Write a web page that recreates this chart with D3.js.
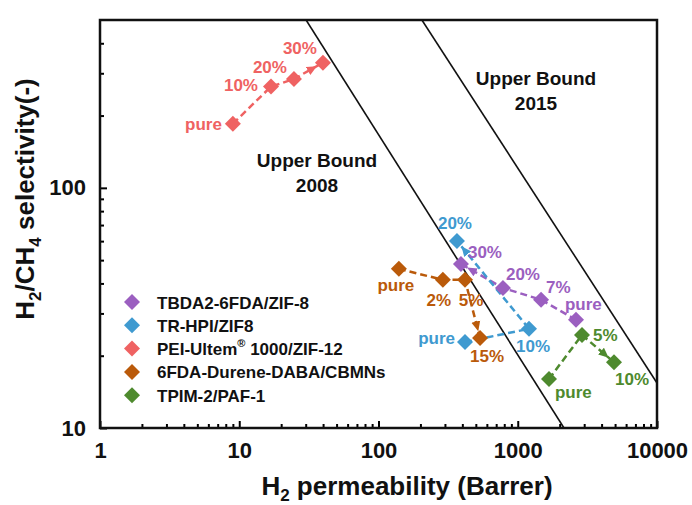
<!DOCTYPE html>
<html lang="en">
  <head>
    <meta charset="UTF-8" />
    <title>H2/CH4 upper bound plot</title>
    <style>
      body {
        margin: 0;
        background: #fff;
        font-family: Arial, "Liberation Sans", sans-serif;
      }
      text {
        font-weight: bold;
      }
    </style>
  </head>
  <body>
    <div id="chart"></div>
    <script src="https://d3js.org/d3.v7.min.js"></script>
    <script>
      // series data: H2 permeability (Barrer) vs H2/CH4 selectivity
      const seriesNames = [
        "TBDA2-6FDA/ZIF-8",
        "TR-HPI/ZIF8",
        "PEI-Ultem® 1000/ZIF-12",
        "6FDA-Durene-DABA/CBMNs",
        "TPIM-2/PAF-1"
      ];
      const seriesColors = ["#9b5fc0", "#3f9ad0", "#ef6262", "#ba5a0a", "#4e8a2e"];

      const tbdaPerm = [2620, 1470, 783, 391];
      const tbdaSel = [28.2, 34.2, 38.3, 48.2];
      const tbdaLabels = ["pure", "7%", "20%", "30%"];

      const trPerm = [418, 1205, 366];
      const trSel = [22.8, 25.9, 60.1];
      const trLabels = ["pure", "10%", "20%"];

      const peiPerm = [9.0, 16.9, 24.7, 39.9];
      const peiSel = [185, 264, 284, 332];
      const peiLabels = ["pure", "10%", "20%", "30%"];

      const fdaPerm = [140, 290, 418, 536];
      const fdaSel = [46, 41.4, 41.4, 23.7];
      const fdaLabels = ["pure", "2%", "5%", "15%"];

      const tpimPerm = [1676, 2893, 4910];
      const tpimSel = [16.0, 24.4, 18.8];
      const tpimLabels = ["pure", "5%", "10%"];

      // upper bound lines (end points)
      const bound2008Perm = [30.2, 2148];
      const bound2008Sel = [500, 10];
      const bound2015Perm = [205, 10000];
      const bound2015Sel = [500, 15.4];

      const xTicks = [1, 10, 100, 1000, 10000];
      const yTicks = [10, 100];

      // label placement (pixel offsets from point, anchor)
      const labelLayout = [
        [[-11, -16, "start"], [5, -13, "start"], [3, -14, "start"], [7, -12, "start"]],
        [[-10, -4, "end"], [4, 17, "middle"], [-2, -18, "middle"]],
        [[-11, 0, "end"], [-13, -2, "end"], [-7, -12, "end"], [-6, -15, "end"]],
        [[-3, 16, "middle"], [-4, 20, "middle"], [6, 20, "middle"], [7, 18, "middle"]],
        [[6, 13, "start"], [11, 0, "start"], [1, 17, "start"]]
      ];

      const series = [
        { perm: tbdaPerm, sel: tbdaSel, labels: tbdaLabels },
        { perm: trPerm, sel: trSel, labels: trLabels },
        { perm: peiPerm, sel: peiSel, labels: peiLabels },
        { perm: fdaPerm, sel: fdaSel, labels: fdaLabels },
        { perm: tpimPerm, sel: tpimSel, labels: tpimLabels }
      ];

      const width = 692, height = 505;
      const margin = { top: 20, right: 35, bottom: 77, left: 100 };
      const innerW = width - margin.left - margin.right;
      const innerH = height - margin.top - margin.bottom;

      const x = d3.scaleLog().domain([1, 10000]).range([0, innerW]);
      const y = d3.scaleLog().domain([10, 500]).range([innerH, 0]);

      const svg = d3.select("#chart").append("svg")
        .attr("width", width)
        .attr("height", height);

      const defs = svg.append("defs");
      seriesColors.forEach((c, i) => {
        defs.append("marker")
          .attr("id", "arrow" + i)
          .attr("markerUnits", "userSpaceOnUse")
          .attr("viewBox", "0 -5 20 10")
          .attr("refX", 17)
          .attr("refY", 0)
          .attr("markerWidth", 20)
          .attr("markerHeight", 10)
          .attr("orient", "auto")
          .append("path")
          .attr("d", "M0,-4.5L10,0L0,4.5Z")
          .attr("fill", c);
      });

      const g = svg.append("g").attr("transform", `translate(${margin.left},${margin.top})`);

      // clip for bound lines
      defs.append("clipPath").attr("id", "plotclip")
        .append("rect").attr("width", innerW).attr("height", innerH);

      // axes with inward ticks
      const minorX = [];
      [1, 10, 100, 1000].forEach(d => { for (let k = 2; k <= 9; k++) minorX.push(d * k); });
      const minorY = [20, 30, 40, 50, 60, 70, 80, 90, 200, 300, 400];

      g.append("g").attr("transform", `translate(0,${innerH})`)
        .call(d3.axisBottom(x).tickValues(xTicks).tickFormat(d3.format("d")).tickSizeInner(-7).tickSizeOuter(0).tickPadding(14))
        .call(a => a.select(".domain").remove())
        .call(a => a.selectAll("line").attr("stroke-width", 2))
        .call(a => a.selectAll("text").attr("font-size", 22).attr("font-family", "Arial, 'Liberation Sans', sans-serif").attr("fill", "#111"));

      g.append("g").attr("transform", `translate(0,${innerH})`)
        .call(d3.axisBottom(x).tickValues(minorX).tickFormat("").tickSizeInner(-4).tickSizeOuter(0))
        .call(a => a.select(".domain").remove())
        .call(a => a.selectAll("line").attr("stroke-width", 2));

      g.append("g")
        .call(d3.axisLeft(y).tickValues(yTicks).tickFormat(d3.format("d")).tickSizeInner(-7).tickSizeOuter(0).tickPadding(14))
        .call(a => a.select(".domain").remove())
        .call(a => a.selectAll("line").attr("stroke-width", 2))
        .call(a => a.selectAll("text").attr("font-size", 22).attr("font-family", "Arial, 'Liberation Sans', sans-serif").attr("fill", "#111"));

      g.append("g")
        .call(d3.axisLeft(y).tickValues(minorY).tickFormat("").tickSizeInner(-4).tickSizeOuter(0))
        .call(a => a.select(".domain").remove())
        .call(a => a.selectAll("line").attr("stroke-width", 2));

      // frame
      g.append("rect")
        .attr("width", innerW).attr("height", innerH)
        .attr("fill", "none").attr("stroke", "#111").attr("stroke-width", 2.5);

      // upper bounds
      const boundLine = d3.line().x(d => x(d[0])).y(d => y(d[1]));
      const bounds = g.append("g").attr("clip-path", "url(#plotclip)");
      bounds.append("path")
        .attr("d", boundLine(d3.zip(bound2008Perm, bound2008Sel)))
        .attr("stroke", "#111").attr("stroke-width", 1.6).attr("fill", "none");
      bounds.append("path")
        .attr("d", boundLine(d3.zip(bound2015Perm, bound2015Sel)))
        .attr("stroke", "#111").attr("stroke-width", 1.6).attr("fill", "none");

      const ub = [
        { cx: 317, lines: ["Upper Bound", "2008"], y0: 167 },
        { cx: 536, lines: ["Upper Bound", "2015"], y0: 85 }
      ];
      ub.forEach(u => {
        u.lines.forEach((t, i) => {
          svg.append("text")
            .attr("x", u.cx).attr("y", u.y0 + i * 25)
            .attr("text-anchor", "middle")
            .attr("font-size", 19).attr("fill", "#111")
            .text(t);
        });
      });

      // series: dashed paths, diamonds, labels
      const diamond = s => `M0,${-s}L${s},0L0,${s}L${-s},0Z`;
      const line = d3.line().x(d => x(d[0])).y(d => y(d[1]));

      series.forEach((s, i) => {
        const pts = d3.zip(s.perm, s.sel);
        g.append("path")
          .attr("d", line(pts))
          .attr("fill", "none")
          .attr("stroke", seriesColors[i])
          .attr("stroke-width", 2.5)
          .attr("stroke-dasharray", "7,4")
          .attr("marker-end", `url(#arrow${i})`);
      });

      series.forEach((s, i) => {
        const pts = d3.zip(s.perm, s.sel);
        g.selectAll(null).data(pts).enter().append("path")
          .attr("d", diamond(8))
          .attr("transform", d => `translate(${x(d[0])},${y(d[1])})`)
          .attr("fill", seriesColors[i]);
        g.selectAll(null).data(pts).enter().append("text")
          .attr("x", (d, j) => x(d[0]) + labelLayout[i][j][0])
          .attr("y", (d, j) => y(d[1]) + labelLayout[i][j][1] + 6)
          .attr("text-anchor", (d, j) => labelLayout[i][j][2])
          .attr("font-size", 17)
          .attr("fill", seriesColors[i])
          .text((d, j) => s.labels[j]);
      });

      // legend
      const legend = svg.append("g").attr("transform", "translate(132,302)");
      seriesNames.forEach((name, i) => {
        const row = legend.append("g").attr("transform", `translate(0,${i * 23.3})`);
        row.append("path").attr("d", diamond(8)).attr("fill", seriesColors[i]);
        const t = row.append("text").attr("x", 25).attr("y", 6.5)
          .attr("font-size", 17).attr("fill", "#111");
        if (name.includes("®")) {
          const parts = name.split("®");
          t.append("tspan").text(parts[0]);
          t.append("tspan").attr("font-size", 11).attr("dy", -8).text("®");
          t.append("tspan").attr("dy", 8).text(parts[1]);
        } else {
          t.text(name);
        }
      });

      // axis titles
      const xt = svg.append("text")
        .attr("x", margin.left + 307).attr("y", 495)
        .attr("text-anchor", "middle").attr("font-size", 26).attr("fill", "#111");
      xt.append("tspan").text("H");
      xt.append("tspan").attr("font-size", 17).attr("dy", 6).text("2");
      xt.append("tspan").attr("dy", -6).text(" permeability (Barrer)");

      const yt = svg.append("text")
        .attr("transform", "translate(34,199) rotate(-90)")
        .attr("text-anchor", "middle").attr("font-size", 26).attr("fill", "#111");
      yt.append("tspan").text("H");
      yt.append("tspan").attr("font-size", 17).attr("dy", 7).text("2");
      yt.append("tspan").attr("dy", -7).text("/CH");
      yt.append("tspan").attr("font-size", 17).attr("dy", 7).text("4");
      yt.append("tspan").attr("dy", -7).text(" selectivity(-)");
    </script>
  </body>
</html>
